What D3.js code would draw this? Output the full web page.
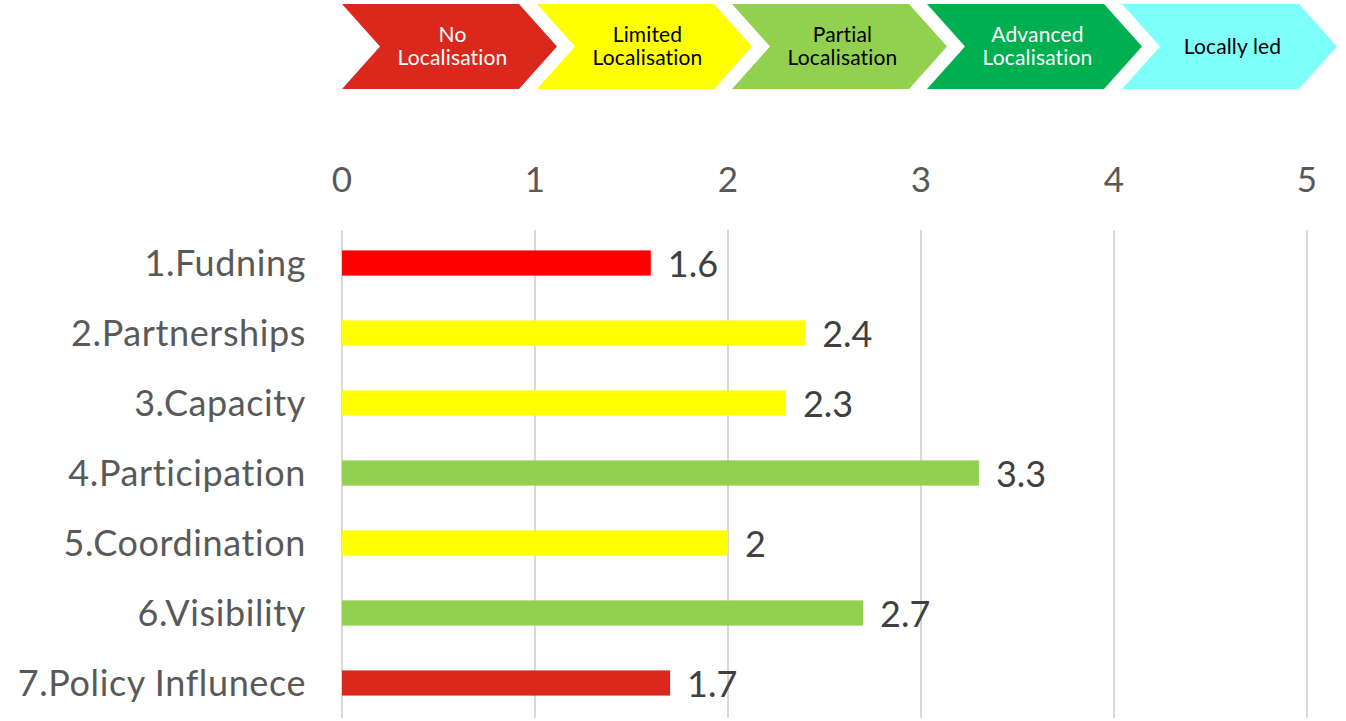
<!DOCTYPE html>
<html><head><meta charset="utf-8">
<script src="https://cdn.jsdelivr.net/npm/d3@7"></script>
<style>body{margin:0;background:#fff}svg{display:block;font-family:Lato,sans-serif;font-variant-ligatures:none;font-feature-settings:"liga" 0}</style>
</head><body><svg id="c" width="1346" height="721"></svg>
<script>
const categories = ["1.Fudning","2.Partnerships","3.Capacity","4.Participation","5.Coordination","6.Visibility","7.Policy Influnece"];
const values = [1.6,2.4,2.3,3.3,2,2.7,1.7];
const barColors = ["#FF0000","#FFFF00","#FFFF00","#92D050","#FFFF00","#92D050","#DA291C"];
const ticks = [0,1,2,3,4,5];
const stages = [["No","Localisation"],["Limited","Localisation"],["Partial","Localisation"],["Advanced","Localisation"],["Locally led"]];
const stageColors = ["#DA291C","#FFFF00","#92D050","#00B050","#7FFFFA"];
const stageText = ["#fff","#000","#000","#fff","#000"];

(function(){
const svg = d3.select("#c");
const x = d3.scaleLinear().domain([0,5]).range([342,1307]);
const y = d3.scaleBand().domain(categories).range([228,718]).paddingInner(0.64).paddingOuter(0.32);

svg.append("g").selectAll("line").data(ticks).join("line")
  .attr("x1",d=>x(d)).attr("x2",d=>x(d)).attr("y1",230).attr("y2",718)
  .attr("stroke","#D9D9D9").attr("stroke-width",2);

svg.append("g").selectAll("text").data(ticks).join("text")
  .attr("x",d=>x(d)).attr("y",192).attr("text-anchor","middle")
  .attr("font-size",35).attr("fill","#595959").text(d=>d);

svg.append("g").selectAll("rect").data(values).join("rect")
  .attr("x",x(0)).attr("y",(d,i)=>y(categories[i])).attr("height",y.bandwidth())
  .attr("width",d=>x(d)-x(0)).attr("fill",(d,i)=>barColors[i]);

svg.append("g").selectAll("text").data(values).join("text")
  .attr("x",d=>x(d)+17).attr("y",(d,i)=>y(categories[i])+y.bandwidth()/2)
  .attr("dy","0.38em").attr("font-size",36).attr("fill","#404040").text(d=>d);

svg.append("g").selectAll("text").data(categories).join("text")
  .attr("x",306).attr("y",d=>y(d)+y.bandwidth()/2).attr("dy","0.36em")
  .attr("text-anchor","end").attr("font-size",36).attr("letter-spacing",0.6)
  .attr("fill","#595959").text(d=>d);

const cx = d3.scaleLinear().domain([0,1]).range([342,537]);
const yTop=4, yBot=89, yMid=(yTop+yBot)/2, depth=38, len=215;
const g = svg.append("g");
stages.forEach((s,i)=>{
  const L = cx(i);
  const pts = [[L,yTop],[L+len-depth,yTop],[L+len,yMid],[L+len-depth,yBot],[L,yBot],[L+depth,yMid]];
  g.append("path").attr("d",d3.line()(pts)+"Z").attr("fill",stageColors[i]);
  const tc = L + len/2 + 3;
  const lh = 23;
  const y0 = yMid - (s.length-1)*lh/2;
  s.forEach((line,j)=>g.append("text").attr("x",tc).attr("y",y0+j*lh).attr("dy","0.35em")
    .attr("text-anchor","middle").attr("font-size",21).attr("letter-spacing",0.15)
    .attr("fill",stageText[i]).text(line));
});
})();
</script></body></html>
